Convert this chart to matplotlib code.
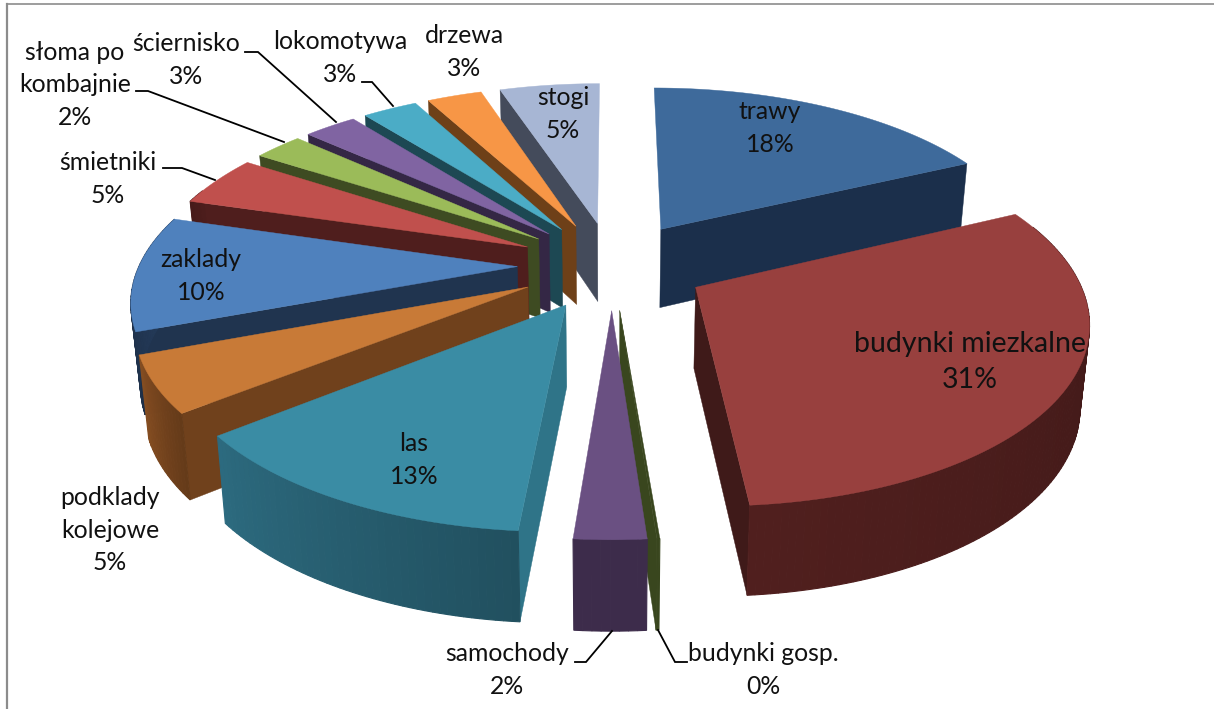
import numpy as np
import matplotlib
matplotlib.use('Agg')
import matplotlib.pyplot as plt

names = ['trawy', 'budynki miezkalne', 'budynki gosp.', 'samochody', 'las',
         'podklady\nkolejowe', 'zaklady', 'śmietniki', 'słoma po\nkombajnie',
         'ściernisko', 'lokomotywa', 'drzewa', 'stogi']
values = [18, 30.85, 0.1, 2.5, 13.05, 5, 10.3, 4.6, 2.5, 2.7, 2.8, 2.8, 5.1]
percent_labels = ['18%', '31%', '0%', '2%', '13%', '5%', '10%', '5%', '2%', '3%', '3%', '3%', '5%']

top_colors = ['#3e6a9b', '#98403e', '#39461e', '#6a5082', '#3a8ca4', '#c87a37', '#4f81bd',
              '#c0504d', '#9bbb59', '#8064a2', '#4bacc6', '#f79646', '#a7b6d4']
side_colors = ['#1b2f4b', '#431a19', '#39461e', '#3d2c4b', '#25596a', '#70411c', '#20344f',
               '#4f1e1d', '#3e4b22', '#342745', '#1d4853', '#6e4018', '#444b5b']
cut_colors = ['#1b2f4b', '#3f1a19', '#39461e', '#3d2c4b', '#2f7488', '#70411c', '#20344f',
              '#4f1e1d', '#3e4b22', '#342745', '#1d4853', '#6e4018', '#444b5b']

# label centre in pixels, one per slice
label_x = [770, 970, 763, 507, 414, 110, 201, 108, 75, 186, 340, 464, 563]
label_y = [128, 362, 670, 670, 460, 530, 276, 179, 85, 60, 58, 52, 114]
label_size = [17.8, 20.5, 17.8, 17.8, 17.8, 17.8, 17.8, 17.8, 17.8, 17.8, 17.8, 17.8, 17.8]

# leader lines in pixels
leaders = [
    ([575, 586, 612], [662, 662, 631]),
    ([687, 675, 658], [662, 662, 630]),
    ([163, 182, 215], [168, 168, 180]),
    ([136, 148, 284], [91, 91, 142]),
    ([245, 258, 336], [52, 52, 122]),
    ([362, 372, 393], [82, 82, 106]),
]

# camera fitted to the picture
CX, CY = 612, 265
SCALE_X, SCALE_Y = 378, 175
PERSP = 0.163
EXPLODE = 0.25
DEPTH = 80
DEPTH_PERSP = 0.1
BOTTOM_SHRINK = 0.98


def project(u, v):
    w = 1 + PERSP * v
    return CX + SCALE_X * u / w, CY - SCALE_Y * v / w


def project_bottom(u, v):
    x, y = project(u, v)
    return CX + (x - CX) * BOTTOM_SHRINK, y + DEPTH / (1 + DEPTH_PERSP * v)


def shade(color, factor):
    rgb = np.array(matplotlib.colors.to_rgb(color)) * factor
    return tuple(np.clip(rgb, 0, 1))


def draw_slice(ax, start, end, i):
    mid = (start + end) / 2
    au = EXPLODE * np.sin(mid)
    av = EXPLODE * np.cos(mid)
    n = max(int(np.degrees(end - start)), 2)
    angles = np.linspace(start, end, n + 1)
    us = au + np.sin(angles)
    vs = av + np.cos(angles)

    # cut faces first, only the ones turned to the viewer
    faces = [(us[0], vs[0], np.cos(start - np.pi / 2)), (us[-1], vs[-1], np.cos(end + np.pi / 2))]
    for edge_u, edge_v, facing in faces:
        if facing > -0.03:
            continue
        pts = [project(au, av), project(edge_u, edge_v),
               project_bottom(edge_u, edge_v), project_bottom(au, av)]
        ax.fill([p[0] for p in pts], [p[1] for p in pts], color=cut_colors[i], lw=0.3)

    # outer wall, big walls get lighter towards their left end
    for k in range(n):
        if np.cos((angles[k] + angles[k + 1]) / 2) > 0.35:
            continue
        pts = [project(us[k], vs[k]), project(us[k + 1], vs[k + 1]),
               project_bottom(us[k + 1], vs[k + 1]), project_bottom(us[k], vs[k])]
        factor = 0.9 + 0.3 * k / n if n >= 15 else 1.0
        col = shade(side_colors[i], factor)
        ax.fill([p[0] for p in pts], [p[1] for p in pts], color=col, lw=0.8)

    # top
    top = [project(au, av)] + [project(a, b) for a, b in zip(us, vs)]
    ax.fill([p[0] for p in top], [p[1] for p in top], color=top_colors[i], lw=0.3)


fig = plt.figure(figsize=(12.14, 7.09), dpi=100)
ax = fig.add_axes([0, 0, 1, 1])
ax.set_xlim(0, 1214)
ax.set_ylim(709, 0)
ax.axis('off')

plt.rcParams['font.family'] = ['Lato', 'DejaVu Sans']

# page frame
ax.plot([7, 7], [709, 4], color='#8c8c8c', lw=1.6)
ax.plot([7, 1214], [4, 4], color='#8c8c8c', lw=1.2)

total = sum(values)
edges = np.concatenate([[0], np.cumsum(values)]) / total * 2 * np.pi
mids = (edges[:-1] + edges[1:]) / 2

# back to front
for i in np.argsort(-np.cos(mids)):
    draw_slice(ax, edges[i], edges[i + 1], i)

for xs, ys in leaders:
    ax.plot(xs, ys, color='black', lw=1.3, solid_joinstyle='miter')

for i, name in enumerate(names):
    ax.text(label_x[i], label_y[i], name + '\n' + percent_labels[i], ha='center', va='center',
            fontsize=label_size[i], color='#111111', linespacing=1.5)

fig.savefig('out.png', dpi=100)
